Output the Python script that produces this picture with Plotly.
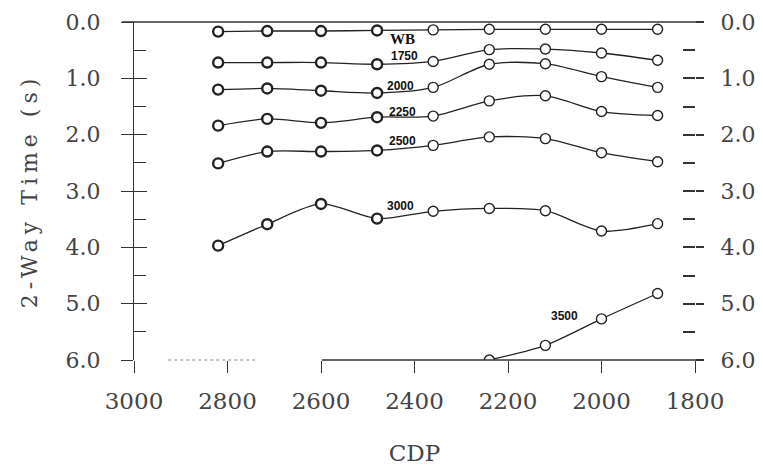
import plotly.graph_objects as go

# ---- data ----
cdp = [2820, 2715, 2600, 2480, 2360, 2240, 2120, 2000, 1880]
t_wb = [0.17, 0.16, 0.16, 0.15, 0.14, 0.13, 0.13, 0.13, 0.13]
t_1750 = [0.72, 0.72, 0.72, 0.75, 0.70, 0.49, 0.48, 0.55, 0.68]
t_2000 = [1.20, 1.18, 1.22, 1.26, 1.16, 0.75, 0.74, 0.97, 1.16]
t_2250 = [1.84, 1.72, 1.79, 1.69, 1.67, 1.40, 1.31, 1.59, 1.66]
t_2500 = [2.51, 2.30, 2.30, 2.28, 2.19, 2.04, 2.07, 2.32, 2.48]
t_3000 = [3.97, 3.59, 3.23, 3.49, 3.36, 3.31, 3.35, 3.71, 3.58]
cdp_3500 = [2240, 2120, 2000, 1880]
t_3500 = [6.00, 5.74, 5.27, 4.82]

series_names = ["WB", "1750", "2000", "2250", "2500", "3000", "3500"]
label_cdp = [2425, 2422, 2431, 2425, 2425, 2431, 2080]
label_t = [0.30, 0.60, 1.13, 1.59, 2.12, 3.27, 5.22]

x_ticks = [3000, 2800, 2600, 2400, 2200, 2000, 1800]
y_ticks = [0, 1, 2, 3, 4, 5, 6]
y_ticktext = ["0.0", "1.0", "2.0", "3.0", "4.0", "5.0", "6.0"]

# ---- styling ----
INK = "#222222"
AXC = "#333333"
TXT = "#444444"
SERIF = "DejaVu Serif"

fig = go.Figure()

all_series = [
    (cdp, t_wb), (cdp, t_1750), (cdp, t_2000), (cdp, t_2250),
    (cdp, t_2500), (cdp, t_3000), (cdp_3500, t_3500),
]
for name, (xs, ys) in zip(series_names, all_series):
    n = len(xs)
    lw = [2.4 if (i < 4 and n == 9) else 1.4 for i in range(n)]
    fig.add_trace(go.Scatter(
        x=xs, y=ys, name=name, mode="lines+markers",
        line=dict(color=INK, width=1.3, shape="spline", smoothing=0.8),
        marker=dict(symbol="circle", size=10, color="white",
                    line=dict(color=INK, width=lw)),
        showlegend=False, cliponaxis=True,
    ))

# dummy traces so overlay axes are drawn
for ax in ["y2", "y3", "y4"]:
    fig.add_trace(go.Scatter(x=[None], y=[None], yaxis=ax, showlegend=False,
                             hoverinfo="skip"))

for name, lx, ly in zip(series_names, label_cdp, label_t):
    fig.add_annotation(
        x=lx, y=ly, text="<b>%s</b>" % name, showarrow=False,
        font=dict(family="Liberation Serif" if name == "WB" else "Liberation Sans",
                  size=15 if name == "WB" else 12, color="#111111"),
    )

yrange = [6, 0]
common_y = dict(range=yrange, showgrid=False, zeroline=False, tickvals=y_ticks,
                automargin=False)

fig.update_layout(
    width=763, height=469,
    margin=dict(l=134, r=68, t=22, b=109, autoexpand=False),
    paper_bgcolor="white", plot_bgcolor="white",
    xaxis=dict(
        range=[3000, 1800], showgrid=False, zeroline=False, showline=False,
        automargin=False,
        tickvals=x_ticks, ticks="outside", ticklen=12, tickwidth=1.3,
        tickcolor=AXC, tickfont=dict(family=SERIF, size=23, color=TXT),
        ticklabelstandoff=8,
        title=dict(text="CDP", font=dict(family=SERIF, size=23, color=TXT),
                   standoff=32),
    ),
    yaxis=dict(
        **common_y, ticktext=y_ticktext, ticks="outside", ticklen=12,
        tickwidth=1.3, tickcolor=AXC, showline=True, linecolor=AXC,
        linewidth=1.3, tickfont=dict(family=SERIF, size=22, color=TXT),
        ticklabelstandoff=16,
        title=dict(text="2-Way Time (s)",
                   font=dict(family=SERIF, size=22, color=TXT), standoff=21),
    ),
    yaxis2=dict(
        **common_y, overlaying="y", side="left", anchor="x",
        showticklabels=False, ticks="inside", ticklen=13, tickwidth=1.3,
        tickcolor=AXC, showline=False,
        minor=dict(ticks="inside", ticklen=12, dtick=0.5, tick0=0,
                   tickwidth=1.3, tickcolor=AXC, showgrid=False),
    ),
    yaxis3=dict(
        **common_y, overlaying="y", side="right", anchor="x",
        showticklabels=False, ticks="inside", ticklen=12, tickwidth=1.6,
        tickcolor=AXC, showline=False,
        minor=dict(ticks="inside", ticklen=12, dtick=0.5, tick0=0,
                   tickwidth=1.6, tickcolor=AXC, showgrid=False),
    ),
    yaxis4=dict(
        **common_y, overlaying="y", side="right", anchor="x",
        ticktext=y_ticktext, ticks="outside", ticklen=8, tickwidth=1.6,
        tickcolor=AXC, showline=False,
        tickfont=dict(family=SERIF, size=22, color=TXT),
        ticklabelstandoff=12,
    ),
    shapes=[
        # top frame line
        dict(type="line", xref="paper", yref="paper", x0=-0.021, x1=1.009,
             y0=1, y1=1, line=dict(color=AXC, width=1.3)),
        # bottom frame line (partly missing in the scan)
        dict(type="line", xref="paper", yref="paper", x0=0.335, x1=1.012,
             y0=0, y1=0, line=dict(color=AXC, width=1.3)),
        dict(type="line", xref="paper", yref="paper", x0=0.061, x1=0.216,
             y0=0, y1=0, line=dict(color="#888888", width=1.2, dash="dot")),
    ],
)

post = """
document.querySelectorAll('.ytitle').forEach(function(e){e.style.letterSpacing='5px';});
"""
fig.write_html("out.html", post_script=post)
